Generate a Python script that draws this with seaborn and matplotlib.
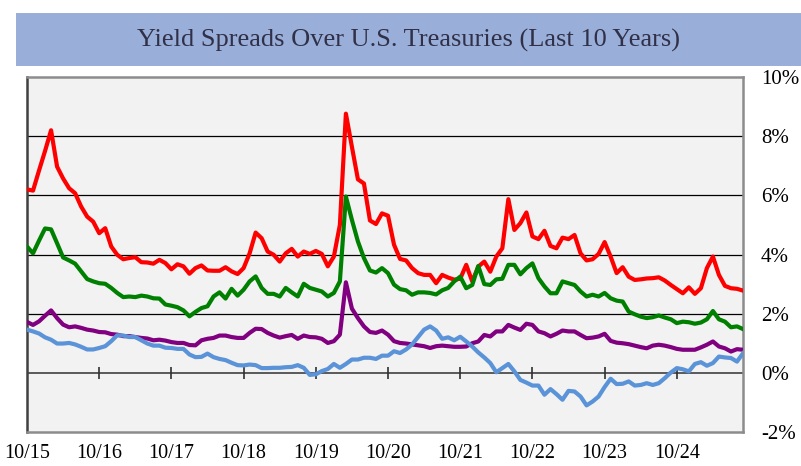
import numpy as np
import pandas as pd
import matplotlib
matplotlib.use("Agg")
import matplotlib.pyplot as plt
import seaborn as sns
from matplotlib.patches import Rectangle

# ---------------- data ----------------
title = "Yield Spreads Over U.S. Treasuries (Last 10 Years)"
tick_labels = ["10/15", "10/16", "10/17", "10/18", "10/19",
               "10/20", "10/21", "10/22", "10/23", "10/24"]
y_ticks = [-2, 0, 2, 4, 6, 8, 10]

red = [6.2, 6.16, 6.84, 7.5, 8.2, 6.97, 6.57, 6.24, 6.07, 5.62, 5.28, 5.11, 4.72, 4.89, 4.27, 3.99, 3.84, 3.88, 3.91, 3.74, 3.73, 3.69, 3.82, 3.71, 3.5,
       3.67, 3.6, 3.35, 3.54, 3.63, 3.46, 3.45, 3.45, 3.57, 3.43, 3.34, 3.54, 4.04, 4.74, 4.55, 4.1, 3.99, 3.76, 4.04, 4.19, 3.93, 4.1, 4.02, 4.12,
       4.02, 3.6, 3.93, 5.0, 8.76, 7.64, 6.54, 6.4, 5.15, 5.03, 5.39, 5.31, 4.33, 3.85, 3.8, 3.54, 3.37, 3.31, 3.31, 3.03, 3.31, 3.22, 3.15, 3.18,
       3.65, 3.09, 3.59, 3.76, 3.42, 3.93, 4.21, 5.87, 4.83, 5.06, 5.42, 4.61, 4.52, 4.8, 4.29, 4.21, 4.57, 4.52, 4.66, 4.04, 3.8, 3.84, 4.02, 4.42,
       3.93, 3.37, 3.57, 3.25, 3.14, 3.16, 3.19, 3.2, 3.23, 3.12, 2.97, 2.83, 2.69, 2.89, 2.67, 2.86, 3.54, 3.93, 3.31, 2.94, 2.86, 2.84, 2.78]

green = [4.27, 4.04, 4.47, 4.88, 4.85, 4.38, 3.9, 3.8, 3.69, 3.43, 3.17, 3.09, 3.03, 3.01, 2.87, 2.7, 2.56, 2.58, 2.56, 2.61, 2.58, 2.52, 2.51, 2.31, 2.27,
         2.22, 2.11, 1.91, 2.06, 2.19, 2.25, 2.58, 2.72, 2.51, 2.84, 2.61, 2.81, 3.09, 3.26, 2.87, 2.67, 2.67, 2.58, 2.87, 2.72, 2.58, 3.01, 2.87, 2.81,
         2.75, 2.58, 2.7, 3.09, 5.96, 5.17, 4.44, 3.88, 3.46, 3.39, 3.54, 3.37, 2.98, 2.83, 2.79, 2.64, 2.72, 2.72, 2.7, 2.65, 2.79, 2.87, 3.09, 3.25,
         2.86, 2.97, 3.61, 3.0, 2.97, 3.16, 3.18, 3.65, 3.65, 3.33, 3.54, 3.7, 3.2, 2.92, 2.69, 2.69, 3.09, 3.03, 2.97, 2.75, 2.58, 2.64, 2.58, 2.7,
         2.52, 2.44, 2.41, 2.07, 1.98, 1.9, 1.85, 1.88, 1.94, 1.87, 1.81, 1.68, 1.73, 1.71, 1.66, 1.7, 1.81, 2.09, 1.81, 1.73, 1.54, 1.57, 1.48]

purple = [1.72, 1.62, 1.74, 1.93, 2.11, 1.85, 1.63, 1.54, 1.57, 1.52, 1.46, 1.43, 1.38, 1.37, 1.31, 1.29, 1.24, 1.24, 1.21, 1.18, 1.16, 1.1, 1.12, 1.09, 1.04,
          1.01, 1.01, 0.94, 0.93, 1.1, 1.15, 1.18, 1.26, 1.26, 1.21, 1.18, 1.18, 1.35, 1.49, 1.48, 1.35, 1.26, 1.19, 1.24, 1.28, 1.15, 1.26, 1.21, 1.2,
          1.15, 1.01, 1.07, 1.29, 3.06, 2.17, 1.85, 1.57, 1.38, 1.35, 1.43, 1.29, 1.07, 1.01, 0.99, 0.96, 0.93, 0.9, 0.84, 0.9, 0.92, 0.9, 0.88, 0.88,
          0.89, 1.0, 1.06, 1.28, 1.23, 1.4, 1.4, 1.62, 1.53, 1.45, 1.66, 1.62, 1.4, 1.34, 1.23, 1.32, 1.43, 1.4, 1.4, 1.28, 1.17, 1.19, 1.23, 1.32,
          1.08, 1.02, 1.0, 0.97, 0.92, 0.87, 0.83, 0.92, 0.95, 0.92, 0.87, 0.81, 0.78, 0.78, 0.78, 0.86, 0.95, 1.06, 0.89, 0.83, 0.72, 0.8, 0.78]

blue = [1.46, 1.4, 1.33, 1.2, 1.12, 0.99, 0.99, 1.01, 0.96, 0.88, 0.79, 0.79, 0.84, 0.9, 1.07, 1.27, 1.26, 1.21, 1.21, 1.1, 0.99, 0.92, 0.92, 0.85, 0.84,
        0.81, 0.81, 0.62, 0.53, 0.54, 0.65, 0.53, 0.47, 0.43, 0.34, 0.26, 0.25, 0.28, 0.26, 0.16, 0.16, 0.17, 0.17, 0.19, 0.2, 0.26, 0.17, -0.07, -0.05,
        0.06, 0.13, 0.3, 0.17, 0.3, 0.45, 0.45, 0.51, 0.51, 0.47, 0.58, 0.58, 0.73, 0.67, 0.79, 0.96, 1.21, 1.46, 1.57, 1.43, 1.15, 1.2, 1.1, 1.22,
        1.06, 0.89, 0.69, 0.52, 0.33, 0.02, 0.16, 0.3, 0.05, -0.24, -0.33, -0.43, -0.43, -0.74, -0.55, -0.72, -0.91, -0.61, -0.63, -0.8, -1.1, -0.97, -0.8, -0.48,
        -0.2, -0.38, -0.37, -0.29, -0.43, -0.41, -0.35, -0.41, -0.35, -0.18, 0.01, 0.16, 0.12, 0.05, 0.3, 0.36, 0.24, 0.33, 0.55, 0.52, 0.5, 0.38, 0.66]

series = {"High Yield": red, "Emerging Markets": green,
          "Investment Grade": purple, "Municipal": blue}
palette = {"High Yield": "#FF0000", "Emerging Markets": "#008000",
           "Investment Grade": "#800080", "Municipal": "#5A93D8"}

frames = []
for name, vals in series.items():
    frames.append(pd.DataFrame({"month": np.arange(len(vals)),
                                "value": vals, "series": name}))
df = pd.concat(frames, ignore_index=True)
n_months = len(red)
tick_pos = np.arange(len(tick_labels)) * 12

# ---------------- figure ----------------
plt.rcParams["font.family"] = ["Liberation Serif", "DejaVu Serif"]
fig = plt.figure(figsize=(8.01, 4.66), dpi=100)
ax = fig.add_axes([27 / 801, 1 - 432 / 466, (743 - 27) / 801, (432 - 77) / 466])
ax.set_facecolor("#F2F2F2")

# title banner
fig.patches.append(Rectangle((16 / 801, 1 - 66 / 466), 1 - 16 / 801, 53 / 466,
                             transform=fig.transFigure, facecolor="#99AED8",
                             edgecolor="none", zorder=0))
fig.text((16 / 801 + 1) / 2, 1 - 40 / 466, title, ha="center", va="center",
         fontsize=19, color="#303048")

# grid lines
for yv in y_ticks:
    if -2 < yv < 10 and yv != 0:
        ax.axhline(yv, color="black", lw=0.9, zorder=1)
ax.axhline(0, color="#404040", lw=1.2, zorder=1)
ax.plot(tick_pos[1:], np.zeros(len(tick_pos) - 1), ls="none", marker="|",
        markersize=8.5, markeredgewidth=1.2, color="#303030", zorder=1)

sns.lineplot(data=df, x="month", y="value", hue="series", palette=palette,
             hue_order=list(series.keys()), linewidth=3.0, legend=False,
             estimator=None, ax=ax, zorder=3)

ax.set_xlim(0, n_months - 1)
ax.set_ylim(-2, 10)
ax.set_xticks(tick_pos, tick_labels)
ax.set_yticks(y_ticks, [f"{v}%" for v in y_ticks])
ax.yaxis.tick_right()
ax.tick_params(axis="x", length=0, pad=9, labelsize=14.5)
ax.tick_params(axis="y", length=0, pad=13, labelsize=15)
ax.set_xlabel("")
ax.set_ylabel("")

for side in ["top", "right", "bottom"]:
    ax.spines[side].set_color("#8C8C8C")
    ax.spines[side].set_linewidth(1.8)
ax.spines["left"].set_color("#404040")
ax.spines["left"].set_linewidth(1.8)

fig.savefig("out.png", dpi=100)
